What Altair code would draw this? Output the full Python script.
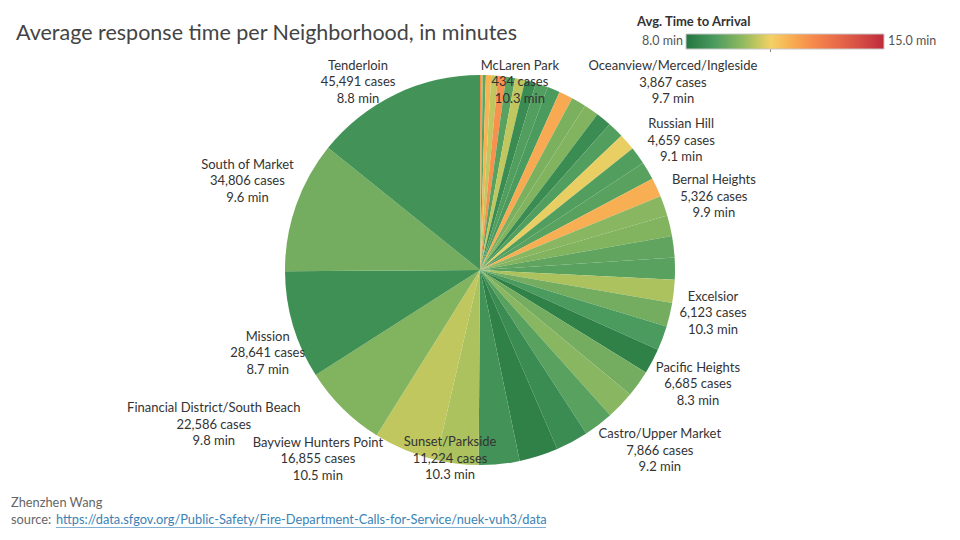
import altair as alt
import pandas as pd

# ---------------- data (ascending by number of cases) ----------------
neighborhoods = [
    "Lincoln Park", "McLaren Park", "Seacliff", "Treasure Island", "Presidio",
    "Glen Park", "Twin Peaks", "Golden Gate Park", "Lone Mountain/USF", "Japantown",
    "Presidio Heights", "Visitacion Valley", "Oceanview/Merced/Ingleside", "Portola",
    "Noe Valley", "Inner Sunset", "Outer Mission", "Russian Hill", "Lakeshore",
    "Mission Bay", "Bernal Heights", "Potrero Hill", "Inner Richmond", "Haight Ashbury",
    "Excelsior", "Marina", "North Beach", "Pacific Heights", "Chinatown",
    "West of Twin Peaks", "Castro/Upper Market", "Hayes Valley", "Nob Hill",
    "Western Addition", "Sunset/Parkside", "Bayview Hunters Point",
    "Financial District/South Beach", "Mission", "South of Market", "Tenderloin",
]
cases = [
    310, 434, 800, 1400, 1800,
    2100, 2400, 2650, 2900, 3250,
    3350, 3700, 3867, 3950,
    4100, 4300, 4450, 4659, 4800,
    5000, 5326, 5500, 5650, 5850,
    6123, 6300, 6500, 6685, 7100,
    7500, 7866, 8600, 10300,
    10800, 11224, 16855,
    22586, 28641, 34806, 45491,
]
minutes = [
    12.4, 10.3, 9.3, 11.6, 10.5,
    12.3, 9.2, 10.5, 8.6, 9.1,
    9.0, 11.8, 9.7, 9.8,
    8.6, 9.1, 10.9, 9.1, 9.2,
    11.7, 9.9, 9.8, 9.3, 9.2,
    10.3, 9.6, 9.0, 8.3, 9.6,
    9.9, 9.2, 8.6, 8.3,
    8.8, 10.3, 10.5,
    9.8, 8.7, 9.6, 8.8,
]
labeled = [
    "McLaren Park", "Oceanview/Merced/Ingleside", "Russian Hill", "Bernal Heights",
    "Excelsior", "Pacific Heights", "Castro/Upper Market", "Sunset/Parkside",
    "Bayview Hunters Point", "Financial District/South Beach", "Mission",
    "South of Market", "Tenderloin",
]

# ---------------- layout (label placement around the pie) ----------------
CX, CY, R = 472, 262, 195
label_nudge = {  # name: (angle shift in degrees, radius in px)
    "McLaren Park": (11.4, 192), "Oceanview/Merced/Ingleside": (15.4, 269),
    "Russian Hill": (3.2, 239), "Bernal Heights": (1.9, 245), "Excelsior": (4.2, 237),
    "Pacific Heights": (-0.3, 246), "Castro/Upper Market": (-7.4, 255),
    "Sunset/Parkside": (2.3, 191), "Bayview Hunters Point": (18.1, 249),
    "Financial District/South Beach": (15.1, 308), "Mission": (-4.9, 228),
    "South of Market": (1.7, 249), "Tenderloin": (-7.4, 224),
}

df = pd.DataFrame({"name": neighborhoods, "cases": cases, "minutes": minutes})
df["label"] = [
    f"{n}\n{c:,} cases\n{m:.1f} min" if n in labeled else ""
    for n, c, m in zip(df["name"], df["cases"], df["minutes"])
]
df["nudge"] = [label_nudge.get(n, (0, 0))[0] for n in df["name"]]
df["lr"] = [label_nudge.get(n, (0, 0))[1] for n in df["name"]]

color_scale = alt.Scale(
    domain=[8, 9, 10, 11, 12.333, 13.667, 15],
    range=["#22763f", "#4b9b5f", "#90b960", "#f4d166", "#f88f4d", "#e25f48", "#be2a3e"],
)

pie = alt.Chart(df).mark_arc(outerRadius=R).encode(
    theta=alt.Theta("cases:Q", stack=True),
    order=alt.Order("cases:Q", sort="ascending"),
    color=alt.Color(
        "minutes:Q",
        scale=color_scale,
        legend=alt.Legend(
            title=None, labelOpacity=0, labelFontSize=1, orient="none", direction="horizontal",
            legendX=678, legendY=26, gradientLength=198, gradientThickness=15,
            gradientStrokeColor="#c8c8c8", gradientStrokeWidth=1, padding=0,
        ),
    ),
)

LH = 16.5
labels = alt.Chart(df).transform_joinaggregate(
    total="sum(cases)"
).transform_window(
    cum="sum(cases)", sort=[alt.SortField("cases", order="ascending")], frame=[None, 0]
).transform_filter(
    "datum.label != ''"
).transform_calculate(
    ang="(datum.cum - datum.cases/2)/datum.total*2*PI + datum.nudge*PI/180"
).transform_calculate(
    lx=f"{CX} + datum.lr*sin(datum.ang)",
    ly=f"{CY} - datum.lr*cos(datum.ang)",
).mark_text(
    lineBreak="\n", lineHeight=LH, align="center", baseline="middle", dy=-LH,
    font="Lato", fontSize=13, color="#333333",
).encode(
    x=alt.X("lx:Q", scale=None),
    y=alt.Y("ly:Q", scale=None),
    text="label:N",
)

def note(text, x, y, **kw):
    return alt.Chart(pd.DataFrame({"t": [text]})).mark_text(
        baseline="middle", **kw
    ).encode(x=alt.value(x), y=alt.value(y), text="t:N")

title = note("Average response time per Neighborhood, in minutes", 8, 25.5,
             align="left", font="Lato", fontSize=21.5, color="#444444")
leg_title = note("Avg. Time to Arrival", 629, 14, align="left", font="Lato",
                 fontSize=13, fontWeight="bold", color="#333333")
leg_lo = note("8.0 min", 675, 33, align="right", font="Lato", fontSize=12.5, color="#555555")
leg_hi = note("15.0 min", 880, 33, align="left", font="Lato", fontSize=12.5, color="#555555")
tick11 = alt.Chart(pd.DataFrame({"t": [0]})).mark_rule(color="#888888", strokeWidth=1).encode(
    x=alt.value(762.5), y=alt.value(41), y2=alt.value(44)
)
author = note("Zhenzhen Wang", 3, 495, align="left", font="Lato", fontSize=12.8, color="#666666")
src = note("source:", 3, 512, align="left", font="Lato", fontSize=12.8, color="#666666")
url = note("https://data.sfgov.org/Public-Safety/Fire-Department-Calls-for-Service/nuek-vuh3/data",
           48, 512, align="left", font="Lato", fontSize=12.8, color="#3b82b4")
underline = alt.Chart(pd.DataFrame({"t": [0]})).mark_rule(color="#7fb0d3", strokeWidth=1).encode(
    x=alt.value(48), x2=alt.value(538), y=alt.value(519.5)
)

chart = alt.layer(
    pie, labels, title, leg_title, leg_lo, leg_hi, tick11, author, src, url, underline
).properties(
    width=944, height=524, padding=0, autosize=alt.AutoSizeParams(type="none"),
).configure_view(stroke=None)

chart.save("out.html", embed_options={"renderer": "svg", "actions": False})
